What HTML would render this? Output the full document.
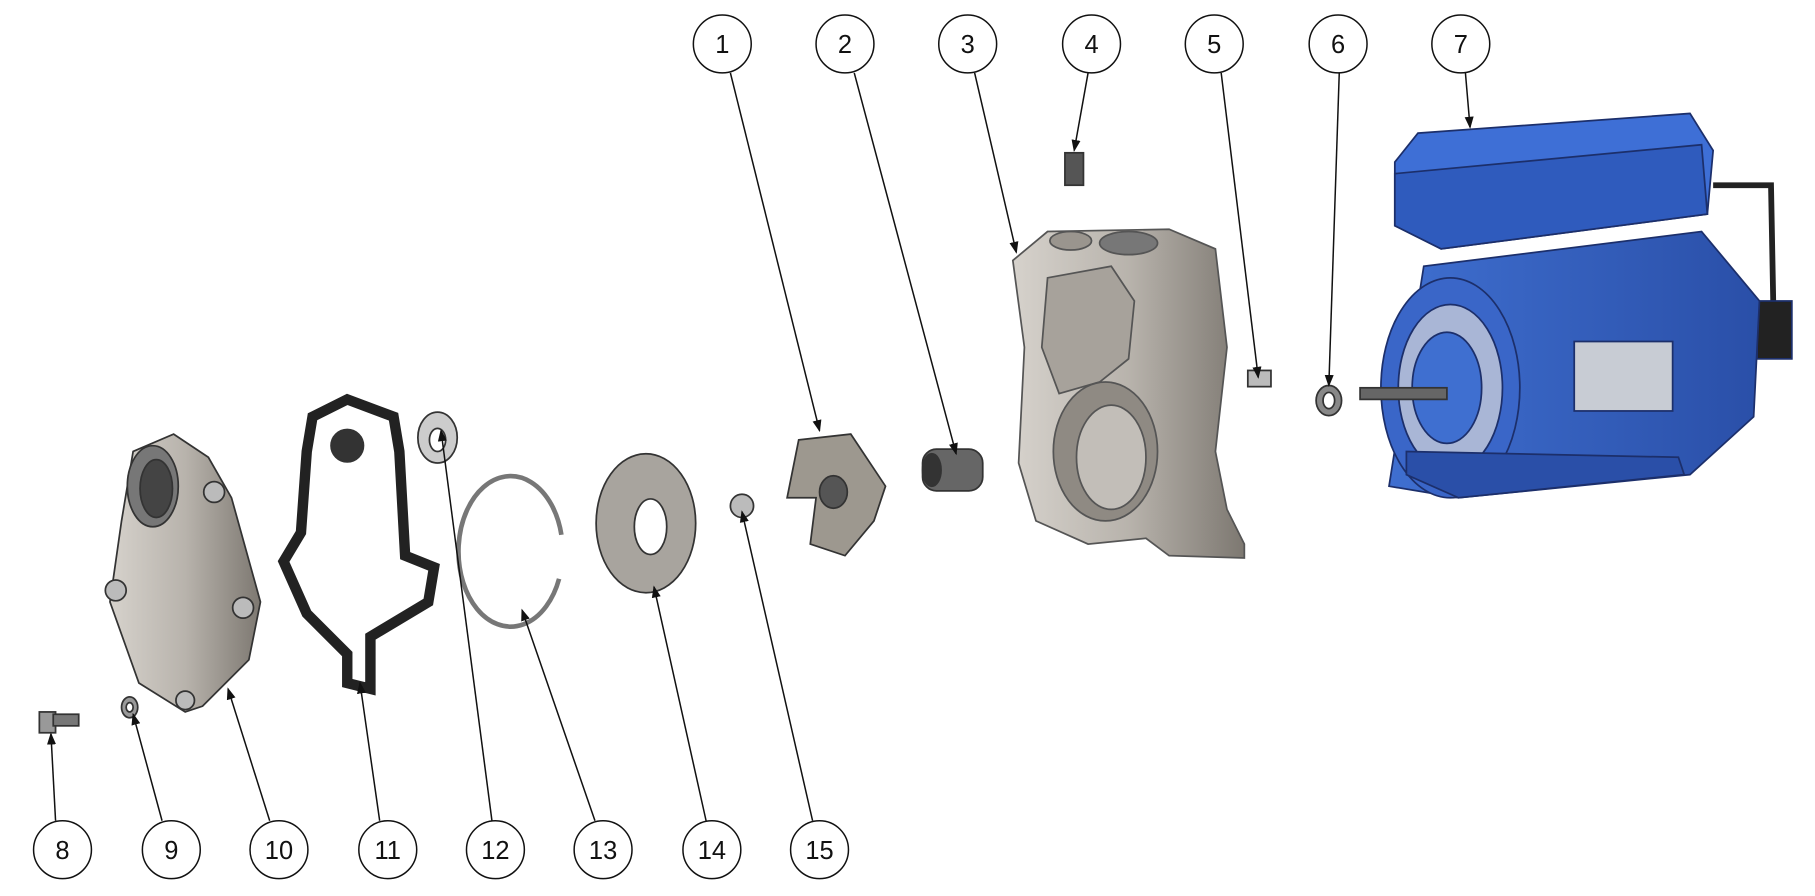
<!DOCTYPE html>
<html><head><style>
html,body{margin:0;padding:0;background:#fff;}
svg{display:block;}
text{font-family:"Liberation Sans",sans-serif;font-size:22px;fill:#111;text-anchor:middle;}
</style></head><body>
<svg width="1815" height="896" viewBox="0 0 1568 774" preserveAspectRatio="none">
<defs>
<marker id="a" markerWidth="8" markerHeight="8" refX="7" refY="4" orient="auto"><path d="M0,1 L8,4 L0,7z" fill="#111"/></marker>
<linearGradient id="g" x1="0" x2="1"><stop offset="0" stop-color="#d6d2cc"/><stop offset=".5" stop-color="#b8b3ac"/><stop offset="1" stop-color="#7d7871"/></linearGradient>
<linearGradient id="b" x1="0" x2="1"><stop offset="0" stop-color="#3f6fd0"/><stop offset="1" stop-color="#2a4fa8"/></linearGradient>
</defs>
<!-- motor -->
<g stroke="#1c2f6b" stroke-width="1.5">
<path d="M1480,160 L1530,160 L1532,265" fill="none" stroke="#222" stroke-width="5"/>
<rect x="1518" y="260" width="30" height="50" fill="#222"/>
<path d="M1230,230 L1470,200 L1520,260 L1515,360 L1460,410 L1260,430 L1200,420 Z" fill="url(#b)"/>
<path d="M1205,140 L1225,115 L1460,98 L1480,130 L1475,185 L1245,215 L1205,195 Z" fill="#3e6fd6"/>
<path d="M1205,150 L1470,125 L1475,185 L1245,215 L1205,195Z" fill="#2f5bbd"/>
<ellipse cx="1253" cy="335" rx="60" ry="95" fill="#3a66c8"/>
<ellipse cx="1253" cy="335" rx="45" ry="72" fill="#a9b6d6"/>
<ellipse cx="1250" cy="335" rx="30" ry="48" fill="#3f6fd0"/>
<rect x="1360" y="295" width="85" height="60" fill="#c8ccd4"/>
<path d="M1215,390 L1450,395 L1455,410 L1260,430 L1215,410Z" fill="#2a4fa8"/>
<rect x="1175" y="335" width="75" height="10" fill="#666" stroke="#333"/>
</g>
<!-- housing -->
<g stroke="#555" stroke-width="1.5">
<path d="M875,225 L905,200 L1010,198 L1050,215 L1060,300 L1050,390 L1060,440 L1075,470 L1075,482 L1010,480 L990,465 L940,470 L895,450 L880,400 L885,300 Z" fill="url(#g)"/>
<path d="M905,240 L960,230 L980,260 L975,310 L950,330 L915,340 L900,300Z" fill="#a7a29b"/>
<ellipse cx="955" cy="390" rx="45" ry="60" fill="#8f8a83"/>
<ellipse cx="960" cy="395" rx="30" ry="45" fill="#c2beb8"/>
<ellipse cx="975" cy="210" rx="25" ry="10" fill="#777"/>
<ellipse cx="925" cy="208" rx="18" ry="8" fill="#9a958e"/>
</g>
<!-- small parts -->
<g stroke="#333" stroke-width="1.5">
<rect x="920" y="132" width="16" height="28" fill="#555"/>
<rect x="1078" y="320" width="20" height="14" fill="#bbb"/>
<ellipse cx="1148" cy="346" rx="11" ry="13" fill="#888"/><ellipse cx="1148" cy="346" rx="5" ry="7" fill="#fff"/>
<path d="M690,380 L735,375 L765,420 L755,450 L730,480 L700,470 L705,430 L680,430Z" fill="#9d988f"/>
<ellipse cx="720" cy="425" rx="12" ry="14" fill="#555"/>
<rect x="797" y="388" width="52" height="36" rx="12" fill="#666"/><ellipse cx="805" cy="406" rx="8" ry="14" fill="#333"/>
<circle cx="641" cy="437" r="10" fill="#bbb"/>
<ellipse cx="558" cy="452" rx="43" ry="60" fill="#a8a49e"/><ellipse cx="562" cy="455" rx="14" ry="24" fill="#fff"/>
<path d="M485,462 A45,65 0 1 0 483,500" fill="none" stroke="#777" stroke-width="4"/>
<ellipse cx="378" cy="378" rx="17" ry="22" fill="#ccc"/><ellipse cx="378" cy="380" rx="7" ry="10" fill="#fff"/>
<path d="M270,360 L300,345 L340,360 L345,390 L350,480 L375,490 L370,520 L320,550 L320,595 L300,590 L300,565 L265,530 L245,485 L260,460 L265,390Z" fill="none" stroke="#222" stroke-width="9"/>
<circle cx="300" cy="385" r="14" fill="#333"/>
<path d="M115,390 L150,375 L180,395 L200,430 L225,520 L215,570 L175,610 L160,615 L120,590 L95,520 L105,450Z" fill="url(#g)"/>
<ellipse cx="132" cy="420" rx="22" ry="35" fill="#777"/><ellipse cx="135" cy="422" rx="14" ry="25" fill="#444"/>
<circle cx="185" cy="425" r="9" fill="#bbb"/><circle cx="100" cy="510" r="9" fill="#bbb"/><circle cx="210" cy="525" r="9" fill="#bbb"/><circle cx="160" cy="605" r="8" fill="#bbb"/>
<rect x="34" y="615" width="14" height="18" fill="#999"/><rect x="46" y="617" width="22" height="10" fill="#777"/>
<ellipse cx="112" cy="611" rx="7" ry="9" fill="#999"/><ellipse cx="112" cy="611" rx="3" ry="4" fill="#fff"/>
</g>
<!-- leaders -->
<g stroke="#111" stroke-width="1.3" fill="none" marker-end="url(#a)">
<line x1="631" y1="63" x2="708" y2="372"/>
<line x1="738" y1="63" x2="826" y2="392"/>
<line x1="842" y1="63" x2="878" y2="218"/>
<line x1="940" y1="63" x2="928" y2="130"/>
<line x1="1055" y1="63" x2="1087" y2="326"/>
<line x1="1157" y1="63" x2="1148" y2="333"/>
<line x1="1266" y1="63" x2="1270" y2="110"/>
<line x1="48" y1="709" x2="44" y2="634"/>
<line x1="140" y1="709" x2="115" y2="617"/>
<line x1="233" y1="709" x2="197" y2="595"/>
<line x1="328" y1="709" x2="311" y2="590"/>
<line x1="425" y1="709" x2="381" y2="372"/>
<line x1="514" y1="709" x2="451" y2="527"/>
<line x1="610" y1="709" x2="565" y2="507"/>
<line x1="702" y1="709" x2="641" y2="442"/>
</g>
<g stroke="#111" stroke-width="1.3" fill="#fff">
<circle cx="624" cy="38" r="25"/><circle cx="730" cy="38" r="25"/><circle cx="836" cy="38" r="25"/><circle cx="943" cy="38" r="25"/><circle cx="1049" cy="38" r="25"/><circle cx="1156" cy="38" r="25"/><circle cx="1262" cy="38" r="25"/>
<circle cx="54" cy="734" r="25"/><circle cx="148" cy="734" r="25"/><circle cx="241" cy="734" r="25"/><circle cx="335" cy="734" r="25"/><circle cx="428" cy="734" r="25"/><circle cx="521" cy="734" r="25"/><circle cx="615" cy="734" r="25"/><circle cx="708" cy="734" r="25"/>
</g>
<g>
<text x="624" y="46">1</text><text x="730" y="46">2</text><text x="836" y="46">3</text><text x="943" y="46">4</text><text x="1049" y="46">5</text><text x="1156" y="46">6</text><text x="1262" y="46">7</text>
<text x="54" y="742">8</text><text x="148" y="742">9</text><text x="241" y="742">10</text><text x="335" y="742">11</text><text x="428" y="742">12</text><text x="521" y="742">13</text><text x="615" y="742">14</text><text x="708" y="742">15</text>
</g>
</svg>
</body></html>
